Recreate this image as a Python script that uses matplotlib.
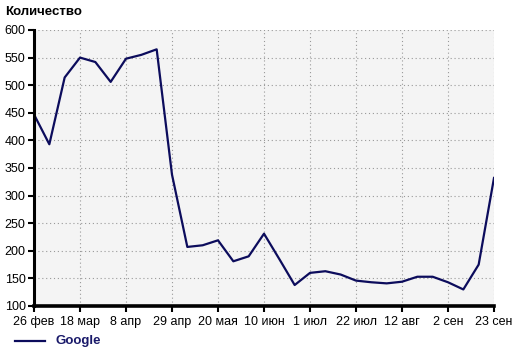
import matplotlib
matplotlib.use("Agg")
import matplotlib.pyplot as plt
from matplotlib.lines import Line2D

# weekly values, 26 фев .. 23 сен
values = [447, 393, 514, 550, 542, 506, 548, 555, 565, 338,
          207, 210, 219, 181, 190, 231, 185, 138, 160, 163,
          157, 146, 143, 141, 144, 153, 153, 143, 130, 175, 332]
tick_labels = ["26 фев", "18 мар", "8 апр", "29 апр", "20 мая", "10 июн",
               "1 июл", "22 июл", "12 авг", "2 сен", "23 сен"]
y_ticks = [100, 150, 200, 250, 300, 350, 400, 450, 500, 550, 600]
series_name = "Google"

plt.rcParams['font.family'] = ['Liberation Sans', 'DejaVu Sans']
navy = '#0c0c5c'

fig = plt.figure(figsize=(5.2, 3.53), dpi=100)
ax = fig.add_axes([34 / 520, 1 - 306 / 353, 460 / 520, 276 / 353])
ax.set_facecolor('#f4f4f4')

weeks = list(range(len(values)))
ax.plot(weeks, values, color=navy, linewidth=1.6)

ax.set_xlim(0, len(values) - 1)
ax.set_ylim(100, 600)
ax.set_xticks(weeks[::3])
ax.set_xticklabels(tick_labels)
ax.set_yticks(y_ticks)

ax.grid(True, color='#999999', linestyle=(0, (1, 2.5)), linewidth=0.8)
ax.set_axisbelow(True)

for s in ['top', 'right']:
    ax.spines[s].set_visible(False)
ax.spines['left'].set_linewidth(2.2)
ax.spines['bottom'].set_linewidth(2.6)
ax.tick_params(axis='both', labelsize=9, colors='black', length=4, width=1.5, pad=2)
ax.tick_params(axis='x', pad=3)

fig.text(5 / 520, 1 - 12 / 353, "Количество", fontsize=9.5, fontweight='bold',
         va='center', ha='left')

fig.add_artist(Line2D([15 / 520, 45 / 520], [1 - 341 / 353, 1 - 341 / 353],
                      color=navy, linewidth=1.6, transform=fig.transFigure))
fig.text(55 / 520, 1 - 341 / 353, series_name, fontsize=9.5, fontweight='bold',
         color='#1a1a6a', va='center', ha='left')

fig.savefig("out.png", dpi=100)
